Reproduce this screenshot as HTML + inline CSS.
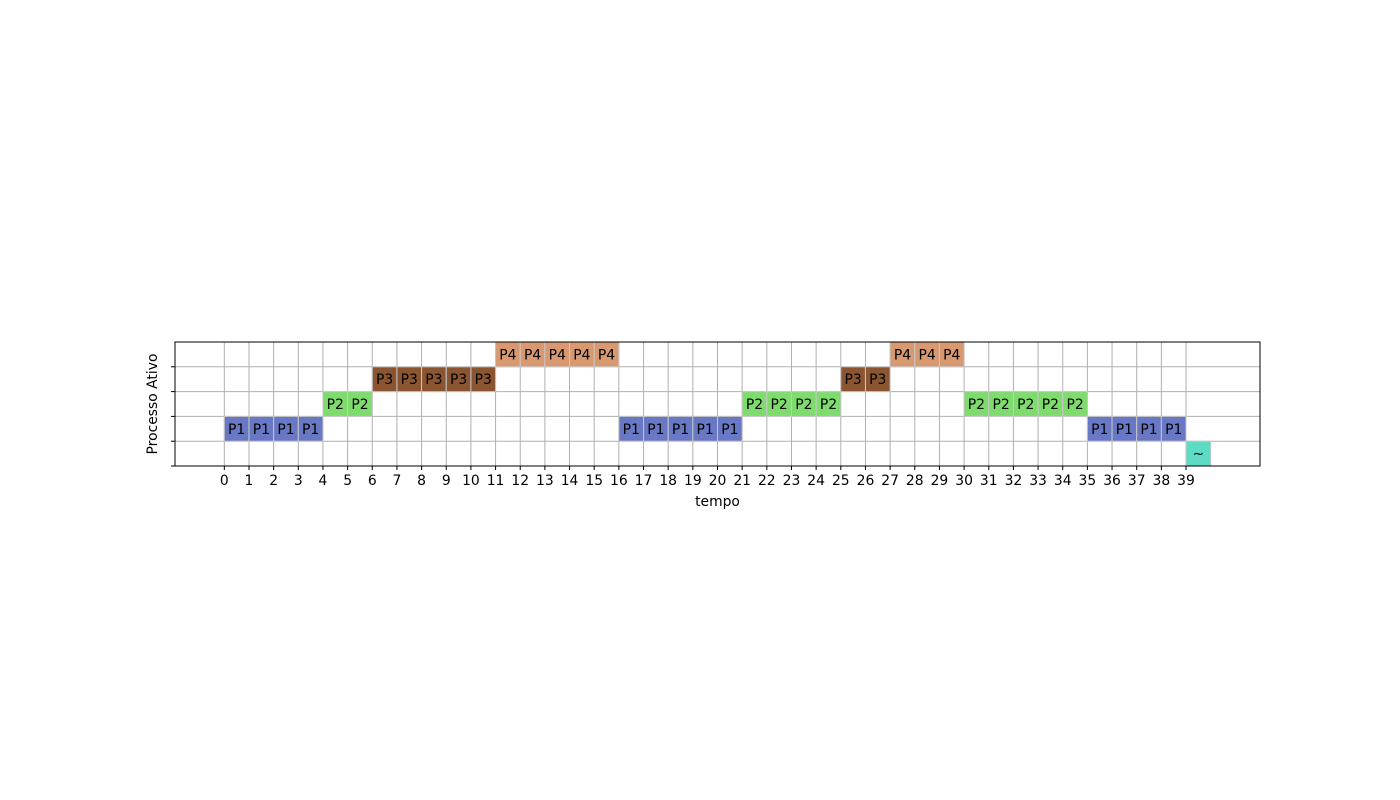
<!DOCTYPE html>
<html><head><meta charset="utf-8"><style>body{margin:0;background:#fff}svg{display:block}</style></head>
<body>
<svg id="c" width="1400" height="800" xmlns="http://www.w3.org/2000/svg" font-family="DejaVu Sans, Liberation Sans, sans-serif"></svg>
<script>
const processes = ["P1","P2","P3","P4","~"];
const rows = [1,2,3,4,0];
const colors = ["#6878c4","#7ddc6c","#8b5532","#d89870","#5cdcc4"];
const schedule = [0,0,0,0,1,1,2,2,2,2,2,3,3,3,3,3,0,0,0,0,0,1,1,1,1,2,2,3,3,3,1,1,1,1,1,0,0,0,0,4];
const xTicks = Array.from({length:40},(_,i)=>i);
const L=175,R=1260,T=342,B=466,xmin=-2,xmax=42,ymin=0,ymax=5;
const FS=13.9;
const X=v=>L+(v-xmin)/(xmax-xmin)*(R-L);
const Y=v=>B-(v-ymin)/(ymax-ymin)*(B-T);
const svg=document.getElementById('c');const NS="http://www.w3.org/2000/svg";
function mk(t,a,p){const e=document.createElementNS(NS,t);for(const k in a)e.setAttribute(k,a[k]);(p||svg).appendChild(e);return e;}
const g=mk('g',{});


xTicks.forEach(t=>mk('line',{x1:X(t),x2:X(t),y1:T,y2:B,stroke:'#b0b0b0','stroke-width':1},g));
for(let r=0;r<5;r++)mk('line',{x1:L,x2:R,y1:Y(r),y2:Y(r),stroke:'#b0b0b0','stroke-width':1},g);
schedule.forEach((p,t)=>{
  const x0=X(t),x1=X(t+1),y0=Y(rows[p]+1),y1=Y(rows[p]);
  const r=mk('rect',{x:x0,y:y0,width:x1-x0,height:y1-y0,fill:colors[p],stroke:'#c8c8c8','stroke-width':1});
  
  
  const tx=mk('text',{x:(x0+x1)/2,y:(y0+y1)/2+5,'text-anchor':'middle','font-size':FS,fill:'#000'});
  tx.textContent=processes[p];
  
  
});
const ax=mk('rect',{x:L,y:T,width:R-L,height:B-T,fill:'none',stroke:'#000','stroke-width':1});


xTicks.forEach(t=>{mk('line',{x1:X(t),x2:X(t),y1:B,y2:B+4,stroke:'#000'});
  const tx=mk('text',{x:X(t),y:B+19,'text-anchor':'middle','font-size':FS});tx.textContent=t;
  
  });
for(let r=0;r<5;r++)mk('line',{x1:L-4,x2:L,y1:Y(r),y2:Y(r),stroke:'#000'});
const xl=mk('text',{x:(L+R)/2,y:506,'text-anchor':'middle','font-size':FS});xl.textContent='tempo';


const yl=mk('text',{x:157,y:(T+B)/2,'text-anchor':'middle','font-size':FS,transform:`rotate(-90 157 ${(T+B)/2})`});yl.textContent='Processo Ativo';


</script>
</body></html>
